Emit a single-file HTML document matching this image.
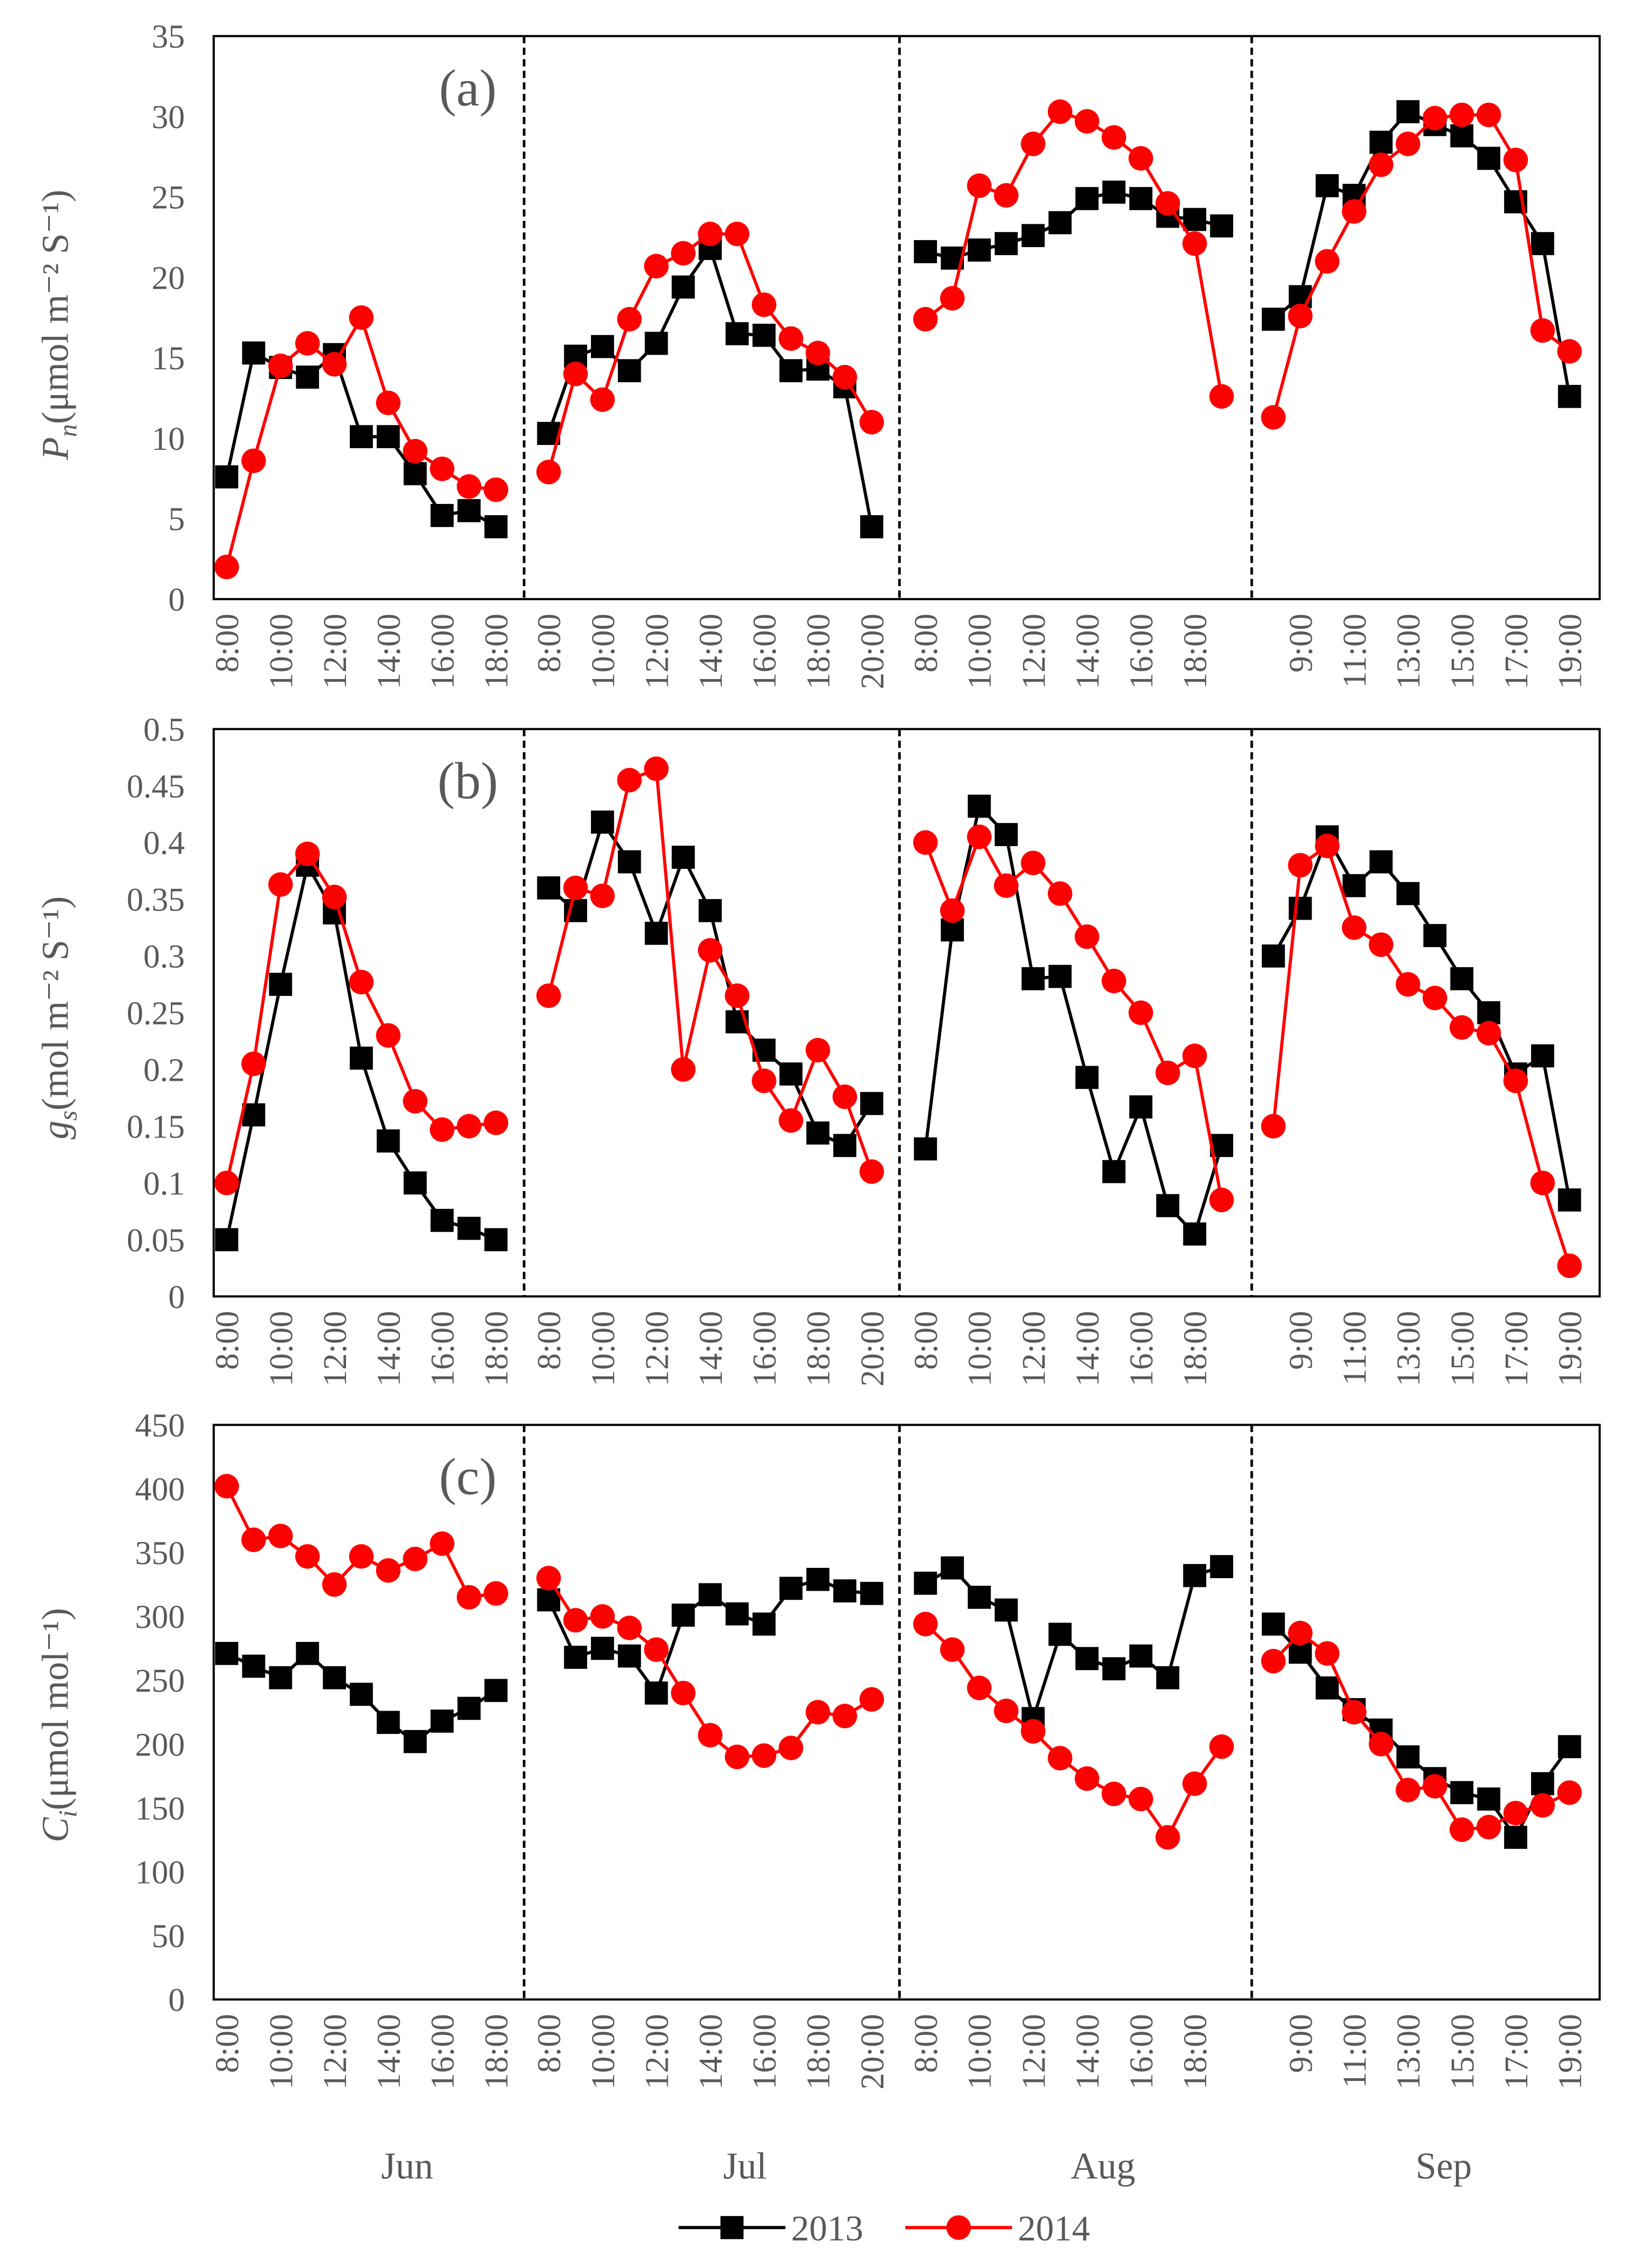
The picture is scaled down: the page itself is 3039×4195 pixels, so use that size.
<!DOCTYPE html>
<html><head><meta charset="utf-8"><style>
html,body{margin:0;padding:0;background:#fff}
svg{display:block}
text{font-family:"Liberation Serif",serif}
</style></head><body>
<svg id="chart" width="3039" height="4195" viewBox="0 0 1138 1571" xmlns="http://www.w3.org/2000/svg"></svg>
<script>
const months = ["Jun","Jul","Aug","Sep"];
const monthStartHour = [8,8,8,8];
const monthCounts = [11,13,12,12];
const monthTickLabels = [
 ["8:00","10:00","12:00","14:00","16:00","18:00"],
 ["8:00","10:00","12:00","14:00","16:00","18:00","20:00"],
 ["8:00","10:00","12:00","14:00","16:00","18:00"],
 ["9:00","11:00","13:00","15:00","17:00","19:00"]];
const years = ["2013","2014"];

const pn2013 = [
 [7.6,15.3,14.4,13.8,15.2,10.1,10.1,7.8,5.2,5.5,4.5],
 [10.3,15.1,15.7,14.2,15.9,19.4,21.8,16.5,16.4,14.2,14.3,13.2,4.5],
 [21.6,21.2,21.7,22.1,22.6,23.4,24.9,25.3,24.9,23.8,23.6,23.2],
 [17.4,18.8,25.7,25.1,28.4,30.3,29.5,28.8,27.4,24.7,22.1,12.6]];
const pn2014 = [
 [2.0,8.6,14.5,15.9,14.6,17.5,12.2,9.2,8.1,7.0,6.8],
 [7.9,14.0,12.4,17.4,20.7,21.5,22.7,22.7,18.3,16.2,15.3,13.8,11.0],
 [17.4,18.7,25.7,25.1,28.3,30.3,29.7,28.7,27.4,24.6,22.1,12.6],
 [11.3,17.6,21.0,24.1,27.0,28.3,29.9,30.1,30.1,27.3,16.7,15.4]];
const gs2013 = [
 [0.05,0.16,0.275,0.38,0.338,0.21,0.137,0.10,0.067,0.06,0.05],
 [0.36,0.34,0.418,0.383,0.32,0.387,0.34,0.242,0.217,0.196,0.144,0.133,0.17],
 [0.13,0.323,0.432,0.407,0.28,0.282,0.193,0.11,0.167,0.08,0.055,0.133],
 [0.30,0.342,0.405,0.362,0.383,0.355,0.318,0.28,0.25,0.196,0.212,0.085]];
const gs2014 = [
 [0.10,0.205,0.363,0.39,0.352,0.277,0.23,0.172,0.147,0.15,0.153],
 [0.265,0.36,0.353,0.455,0.465,0.20,0.305,0.265,0.19,0.155,0.217,0.176,0.11],
 [0.40,0.34,0.405,0.362,0.382,0.355,0.317,0.278,0.25,0.197,0.212,0.085],
 [0.15,0.38,0.397,0.325,0.31,0.275,0.263,0.237,0.232,0.19,0.10,0.027]];
const ci2013 = [
 [271,261,252,271,252,239,217,202,218,228,242],
 [313,268,275,269,240,301,317,302,294,322,329,320,318],
 [326,338,315,305,220,286,267,259,269,252,332,339],
 [294,272,244,227,211,190,173,162,157,127,169,198]];
const ci2014 = [
 [402,360,363,347,325,347,336,345,357,315,318],
 [330,297,300,291,274,240,207,190,191,197,225,222,235],
 [294,274,244,226,210,189,173,161,157,127,169,198],
 [265,287,271,225,200,164,167,133,135,146,152,162]];

const pnTicks = [0,5,10,15,20,25,30,35];
const gsTicks = [0,0.05,0.1,0.15,0.2,0.25,0.3,0.35,0.4,0.45,0.5];
const ciTicks = [0,50,100,150,200,250,300,350,400,450];

const NS="http://www.w3.org/2000/svg";
const svg=document.getElementById('chart');
function el(tag,attrs,parent){const e=document.createElementNS(NS,tag);for(const k in attrs)e.setAttribute(k,attrs[k]);(parent||svg).appendChild(e);return e;}

const X0=148,X1=1108;
const monthX0=[157,380,641,882];
const STEP=18.65;
const dividers=[363,623,867];
function xPos(m,i){return monthX0[m]+i*STEP;}

const panels=[
 {key:"a",top:25,bot:415,ticks:pnTicks,max:35,d13:pn2013,d14:pn2014,fmt:v=>String(v),title:["P","n","(μmol m⁻² S⁻¹)"],tcy:225},
 {key:"b",top:505,bot:898,ticks:gsTicks,max:0.5,d13:gs2013,d14:gs2014,fmt:v=>String(+v.toFixed(2)),title:["g","s","(mol m⁻² S⁻¹)"],tcy:705},
 {key:"c",top:987,bot:1385,ticks:ciTicks,max:450,d13:ci2013,d14:ci2014,fmt:v=>String(v),title:["C","i","(μmol mol⁻¹)"],tcy:1195}];

panels.forEach(p=>{
 const g=el('g',{});
 
 
 const y=v=>p.bot-(v/p.max)*(p.bot-p.top);
 const box=el('rect',{x:X0,y:p.top,width:X1-X0,height:p.bot-p.top,fill:'none',stroke:'#000','stroke-width':1.5},g);
 
 
 dividers.forEach(dx=>{
  const l=el('line',{x1:dx,x2:dx,y1:p.top,y2:p.bot,stroke:'#000','stroke-width':1.8,'stroke-dasharray':'5,3'},g);
  
  
 });
 p.ticks.forEach(v=>{
  const t=el('text',{x:128,y:y(v)+8,'text-anchor':'end','font-size':23,fill:'#595959'},g);
  t.textContent=p.fmt(v);
  
  
 });
 const lab=el('text',{x:324,y:p.top+48,'text-anchor':'middle','font-size':36,fill:'#595959'},g);
 lab.textContent='('+p.key+')';
 
 
 const tt=el('text',{transform:`translate(47,${p.tcy}) rotate(-90)`,'text-anchor':'middle','font-size':26,fill:'#595959'},g);
 
 
 const s1=el('tspan',{'font-style':'italic'},tt);s1.textContent=p.title[0];
 const s2=el('tspan',{'font-style':'italic','font-size':18,dy:6},tt);s2.textContent=p.title[1];
 const s3=el('tspan',{dy:-6},tt);s3.textContent=p.title[2];
 months.forEach((mn,m)=>{
  monthTickLabels[m].forEach(lbl=>{
   const h=parseInt(lbl);const i=h-monthStartHour[m];
   const xx=xPos(m,i);
   const t=el('text',{transform:`translate(${xx+8},${p.bot+10}) rotate(-90)`,'text-anchor':'end','font-size':23,fill:'#595959'},g);
   t.textContent=lbl;
   
   
  });
  [[p.d13[m],'#000','sq'],[p.d14[m],'#ff0000','ci']].forEach(([arr,col,mk],si)=>{
   const pts=arr.map((v,i)=>xPos(m,i)+','+y(v)).join(' ');
   const pl=el('polyline',{points:pts,fill:'none',stroke:col,'stroke-width':2.2},g);
   
   
   arr.forEach((v,i)=>{
    let e;
    if(mk==='sq') e=el('rect',{x:xPos(m,i)-8,y:y(v)-8,width:16,height:16,fill:col},g);
    else e=el('circle',{cx:xPos(m,i),cy:y(v),r:8.5,fill:col},g);
    
    
   });
  });
 });
});
const monthCenters=[282,516,764,1000];
months.forEach((mn,m)=>{
 const t=el('text',{x:monthCenters[m],y:1509,'text-anchor':'middle','font-size':26,fill:'#595959'});
 t.textContent=mn;
 
 
});
const lg=el('g',{});


[[470,'#000','sq','2013'],[627,'#ff0000','ci','2014']].forEach(([lx,col,mk,txt])=>{
 const l=el('line',{x1:lx,x2:lx+74,y1:1543,y2:1543,stroke:col,'stroke-width':2.2},lg);
 
 
 let e;
 if(mk==='sq') e=el('rect',{x:lx+29,y:1535,width:16,height:16,fill:col},lg);
 else e=el('circle',{cx:lx+37,cy:1543,r:8.5,fill:col},lg);
 
 
 const t=el('text',{x:lx+78,y:1552,'font-size':25,fill:'#595959'},lg);
 t.textContent=txt;
 
 
});
</script>
</body></html>
